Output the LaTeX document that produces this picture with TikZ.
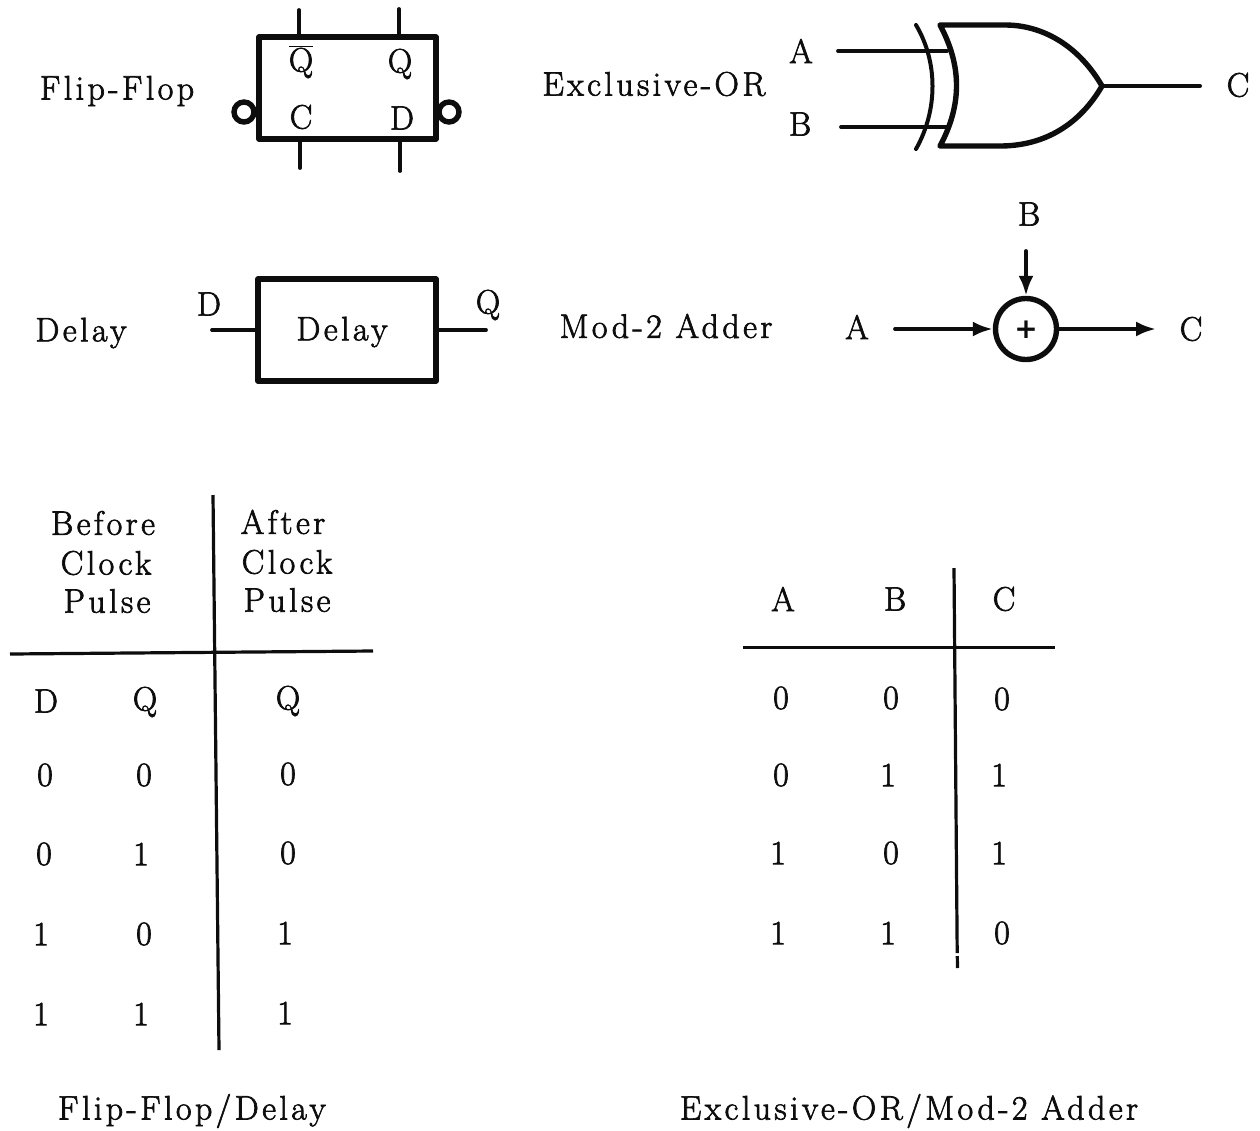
\documentclass[tikz,border=0pt]{standalone}
\usepackage{fontspec}
\setmainfont{Latin Modern Roman}[LetterSpace=10,FakeBold=2]
\newfontfamily\plusfont{DejaVu Sans}
\usetikzlibrary{arrows.meta}
\tikzset{
  txt/.style={inner sep=0pt,font=\fontsize{34}{38}\selectfont,text=ink,align=center},
  boxnode/.style={draw=ink,line width=5.6pt,inner sep=0pt,line join=round},
  wire/.style={draw=ink,line width=3.8pt,line cap=round},
  gate/.style={draw=ink,line width=5.4pt,line join=round,line cap=round},
  rulel/.style={draw=ink,line width=3.2pt},
  arrowed/.style={wire,-{Latex[length=20pt,width=15pt]}},
  bubble/.style={circle,draw=ink,line width=5.4pt,minimum size=20pt,inner sep=0pt}
}
\definecolor{ink}{gray}{0.05}
\begin{document}
\begin{tikzpicture}[x=1pt,y=-1pt]
\useasboundingbox (0,0) rectangle (1260,1130);
% Flip-flop
\node[txt] (lff) at (117,91) {Flip-Flop};
\node[boxnode,minimum width=177pt,minimum height=102pt] (ff) at (347.5,88) {};
\node[txt] (qb) at (301,62) {$\overline{\hbox{Q}}$};
\node[txt] (q1) at (400,64) {Q};
\node[txt] (c1) at (301,117) {C};
\node[txt] (d1) at (402,118) {D};
\coordinate (ffa) at (299,10);
\coordinate (ffb) at (399,9);
\coordinate (ffc) at (300,168);
\coordinate (ffd) at (400,171);
\draw[wire] (ffa) -- (ffa |- ff.north);
\draw[wire] (ffb) -- (ffb |- ff.north);
\draw[wire] (ffc) -- (ffc |- ff.south);
\draw[wire] (ffd) -- (ffd |- ff.south);
\node[bubble] (bl) at (244,112) {};
\node[bubble] (br) at (449,112) {};
% Delay
\node[txt] (ldl) at (81,333) {Delay};
\node[boxnode,minimum width=178pt,minimum height=102pt] (dl) at (347,330) {};
\node[txt] at (342,332) (dlt) {Delay};
\node[txt] (d2) at (209,304) {D};
\node[txt] (q2) at (488,305) {Q};
\coordinate (dli) at (212,330);
\coordinate (dlo) at (486,330);
\draw[wire] (dli) -- (dl.west);
\draw[wire] (dl.east) -- (dlo);
% XOR
\node[txt] (lx) at (654,84) {Exclusive-OR};
\node[txt] (xa) at (801,51) {A};
\node[txt] (xb) at (800,124) {B};
\node[txt] (xc) at (1238,85) {C};
\coordinate (xtip) at (1102,86);
\coordinate (xi1) at (838,51);
\coordinate (xi2) at (841,127);
\coordinate (xe1) at (947,51);
\coordinate (xe2) at (947,127);
\coordinate (xo) at (1200,86);
\draw[gate] (940,25) -- (1005,25) .. controls (1045,25) and (1080,48) .. (xtip)
  .. controls (1080,124) and (1045,146) .. (1000,146) -- (940,146)
  .. controls (962,105) and (962,66) .. cycle;
\draw[wire,line width=4pt] (916,25) .. controls (938,62) and (938,110) .. (916,149);
\draw[wire] (xi1) -- (xe1);
\draw[wire] (xi2) -- (xe2);
\draw[wire,line width=4pt] (xtip) -- (xo);
% Adder
\node[txt] (lm) at (666,326) {Mod-2 Adder};
\node[circle,draw=ink,line width=5.4pt,minimum size=61pt,inner sep=0pt] (add) at (1026,329) {};
\node[txt,font=\plusfont\bfseries\fontsize{28}{28}\selectfont] (pl) at (1026,330) {+};
\node[txt] (aa) at (857,327) {A};
\node[txt] (ab) at (1029,214) {B};
\node[txt] (ac) at (1191,329) {C};
\coordinate (aai) at (895,329);
\coordinate (abi) at (1026,251);
\coordinate (aco) at (1156,329);
\draw[arrowed] (aai) -- (add.west);
\draw[arrowed] (abi) -- (add.north);
\draw[arrowed] (add.east) -- (aco);
% Left table
\coordinate (lv1) at (213,495);
\coordinate (lv2) at (219,1050);
\coordinate (lh1) at (10,654);
\coordinate (lh2) at (373,651);
\draw[rulel] (lv1) -- (lv2);
\draw[rulel] (lh1) -- (lh2);
\node[txt] (t1) at (103,523) {Before};
\node[txt] (t2) at (106,563) {Clock};
\node[txt] (t3) at (107,601) {Pulse};
\node[txt] (t4) at (283,522) {After};
\node[txt] (t5) at (287,562) {Clock};
\node[txt] (t6) at (287,600) {Pulse};
\node[txt] (h1) at (46,701) {D};
\node[txt] (h2) at (145,702) {Q};
\node[txt] (h3) at (288,701) {Q};
\node[txt] (a1) at (45,775) {0};
\node[txt] (a2) at (144,775) {0};
\node[txt] (a3) at (288,774) {0};
\node[txt] (b1) at (44,854) {0};
\node[txt] (b2) at (141,854) {1};
\node[txt] (b3) at (288,853) {0};
\node[txt] (c1r) at (41,934) {1};
\node[txt] (c2r) at (144,934) {0};
\node[txt] (c3r) at (285,933) {1};
\node[txt] (d1r) at (41,1014) {1};
\node[txt] (d2r) at (141,1014) {1};
\node[txt] (d3r) at (285,1013) {1};
\node[txt] (capl) at (192,1111) {Flip-Flop/Delay};
% Right table
\coordinate (rv1) at (954,568);
\coordinate (rv2) at (957.2,953);
\coordinate (rv3) at (957.3,956);
\coordinate (rv4) at (957.5,968);
\coordinate (rh1) at (743,647.5);
\coordinate (rh2) at (1055,647.5);
\draw[rulel] (rv1) -- (rv2);
\draw[rulel] (rv3) -- (rv4);
\draw[rulel] (rh1) -- (rh2);
\node[txt] (ra) at (783,599) {A};
\node[txt] (rb) at (895,599) {B};
\node[txt] (rc) at (1004,599) {C};
\node[txt] (e1) at (781,698) {0};
\node[txt] (e2) at (891,698) {0};
\node[txt] (e3) at (1002,699) {0};
\node[txt] (f1) at (781,775) {0};
\node[txt] (f2) at (888,775) {1};
\node[txt] (f3) at (999,775) {1};
\node[txt] (g1) at (778,853) {1};
\node[txt] (g2) at (891,853) {0};
\node[txt] (g3) at (999,853) {1};
\node[txt] (k1) at (778,933) {1};
\node[txt] (k2) at (888,933) {1};
\node[txt] (k3) at (1002,933) {0};
\node[txt] (capr) at (909,1111) {Exclusive-OR/Mod-2 Adder};
\end{tikzpicture}
\end{document}
